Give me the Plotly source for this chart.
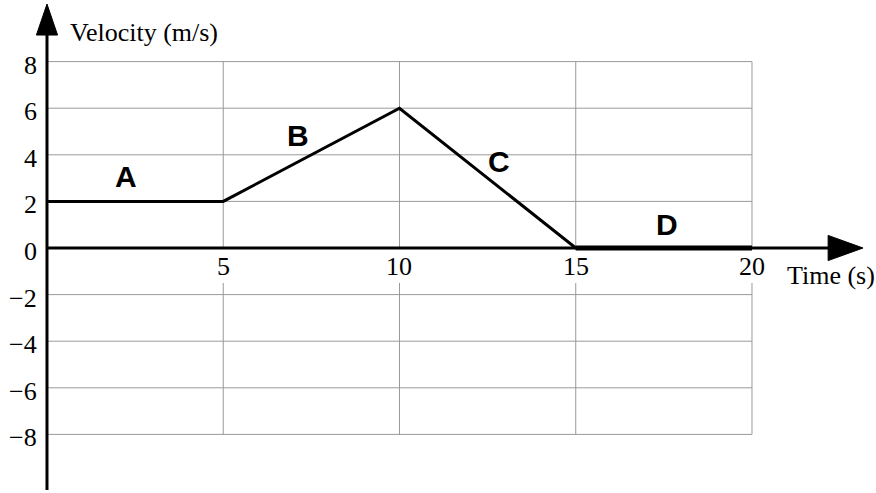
import plotly.graph_objects as go

# Data
time_s = [0, 5, 10, 15, 20]
velocity = [2, 2, 6, 0, 0]
x_ticks = [5, 10, 15, 20]
x_tick_labels = ["5", "10", "15", "20"]
y_ticks = [8, 6, 4, 2, 0, -2, -4, -6, -8]
y_tick_labels = ["8", "6", "4", "2", "0", "\u22122", "\u22124", "\u22126", "\u22128"]
seg_labels = ["A", "B", "C", "D"]
seg_label_x = [2.24, 7.12, 12.82, 17.59]
seg_label_y = [3.05, 4.85, 3.73, 0.99]

X_MIN, X_MAX = -1.333, 23.518
Y_MIN, Y_MAX = -10.515, 10.644
GRID_X_MAX = 20
GRID_Y = 8
Y_AXIS_BOTTOM = -10.39
# arrow heads (axis decoration)
X_TIP, X_HEAD_LEN, X_HEAD_HALF = 23.15, 0.99, 0.54
Y_TIP, Y_HEAD_LEN, Y_HEAD_HALF = 10.47, 1.33, 0.30

serif = "Liberation Serif, Times New Roman, serif"
sans = "Liberation Sans, Arial, sans-serif"

fig = go.Figure()

shapes = []
grid_col = "#9a9a9a"
for yv in y_ticks:
    if yv == 0:
        continue
    shapes.append(dict(type="line", x0=0, x1=GRID_X_MAX, y0=yv, y1=yv,
                       line=dict(color=grid_col, width=1), layer="below"))
for xv in x_ticks:
    shapes.append(dict(type="line", x0=xv, x1=xv, y0=0, y1=GRID_Y,
                       line=dict(color=grid_col, width=1), layer="below"))
    shapes.append(dict(type="line", x0=xv, x1=xv, y0=-1.5, y1=-GRID_Y,
                       line=dict(color=grid_col, width=1), layer="below"))
# axes
shapes.append(dict(type="line", x0=0, x1=X_TIP - X_HEAD_LEN + 0.1, y0=0, y1=0,
                   line=dict(color="black", width=3)))
shapes.append(dict(type="line", x0=0, x1=0, y0=Y_AXIS_BOTTOM, y1=Y_TIP - Y_HEAD_LEN + 0.1,
                   line=dict(color="black", width=3)))
# arrow heads
xb = X_TIP - X_HEAD_LEN
shapes.append(dict(type="path",
                   path=f"M {xb},{-X_HEAD_HALF} L {X_TIP},0 L {xb},{X_HEAD_HALF} Z",
                   fillcolor="black", line=dict(color="black", width=1)))
yb = Y_TIP - Y_HEAD_LEN
shapes.append(dict(type="path",
                   path=f"M {-Y_HEAD_HALF},{yb} L 0,{Y_TIP} L {Y_HEAD_HALF},{yb} Z",
                   fillcolor="black", line=dict(color="black", width=1)))

fig.add_trace(go.Scatter(x=time_s, y=velocity, mode="lines",
                         line=dict(color="black", width=3),
                         hoverinfo="skip", showlegend=False))
fig.add_trace(go.Scatter(x=time_s[3:], y=velocity[3:], mode="lines",
                         line=dict(color="black", width=5),
                         hoverinfo="skip", showlegend=False))

annotations = []
for yv, lab in zip(y_ticks, y_tick_labels):
    annotations.append(dict(x=-0.227, y=yv - 0.15, text=lab, showarrow=False,
                            xanchor="right", yanchor="middle",
                            font=dict(family=serif, size=26, color="black")))
for xv, lab in zip(x_ticks, x_tick_labels):
    annotations.append(dict(x=xv, y=-0.8, text=lab, showarrow=False,
                            xanchor="center", yanchor="middle",
                            font=dict(family=serif, size=26, color="black")))
for xv, yv, lab in zip(seg_label_x, seg_label_y, seg_labels):
    annotations.append(dict(x=xv, y=yv, text="<b>" + lab + "</b>", showarrow=False,
                            xanchor="center", yanchor="middle",
                            font=dict(family=sans, size=30, color="black")))
annotations.append(dict(x=0.6, y=9.23, text="Velocity (m/s)", showarrow=False,
                        xanchor="left", yanchor="middle",
                        font=dict(family=serif, size=26, color="black")))
annotations.append(dict(x=20.94, y=-1.2, text="Time (s)", showarrow=False,
                        xanchor="left", yanchor="middle",
                        font=dict(family=serif, size=26, color="black")))

fig.update_layout(
    width=876, height=493,
    margin=dict(l=0, r=0, t=0, b=0),
    paper_bgcolor="white", plot_bgcolor="white",
    xaxis=dict(range=[X_MIN, X_MAX], visible=False, fixedrange=True),
    yaxis=dict(range=[Y_MIN, Y_MAX], visible=False, fixedrange=True),
    shapes=shapes, annotations=annotations,
    showlegend=False,
)

fig.write_html("out.html", config={"displayModeBar": False},
               post_script="document.body.style.margin='0px';document.body.style.overflow='hidden';")
